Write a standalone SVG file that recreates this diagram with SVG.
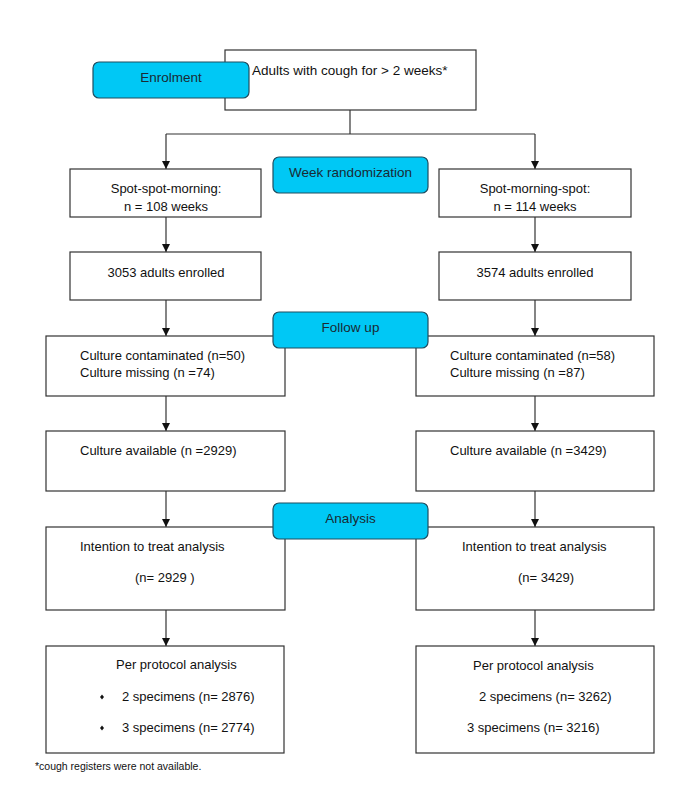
<svg xmlns="http://www.w3.org/2000/svg" width="687" height="800" viewBox="0 0 687 800">
  <style>
    .box { fill: #ffffff; stroke: #333333; stroke-width: 1.2; }
    .tag { fill: #00C8F5; stroke: #1F4E60; stroke-width: 1.2; }
    .t { font-family: "Liberation Sans", Arial, sans-serif; font-size: 13px; fill: #111111; }
    .c { text-anchor: middle; }
    .tg { font-family: "Liberation Sans", Arial, sans-serif; font-size: 13.5px; fill: #1a2a33; text-anchor: middle; }
    .fn { font-family: "Liberation Sans", Arial, sans-serif; font-size: 10.5px; fill: #111111; }
    .con { fill: none; stroke: #333333; stroke-width: 1.2; }
  </style>
  <defs>
    <marker id="ah" viewBox="0 0 8 8" refX="8" refY="4" markerWidth="8" markerHeight="8" markerUnits="userSpaceOnUse" orient="auto">
      <path d="M0,0 L8,4 L0,8 Z" fill="#111111"/>
    </marker>
  </defs>
  <rect width="687" height="800" fill="#ffffff"/>

  <g id="connectors">
    <path class="con" d="M350,110 V134"/>
    <path class="con" d="M166,134 H535"/>
    <path class="con" d="M166,134 V169" marker-end="url(#ah)"/>
    <path class="con" d="M535,134 V169" marker-end="url(#ah)"/>
    <path class="con" d="M166,217 V252" marker-end="url(#ah)"/>
    <path class="con" d="M535,217 V252" marker-end="url(#ah)"/>
    <path class="con" d="M166,300 V336" marker-end="url(#ah)"/>
    <path class="con" d="M535,300 V336" marker-end="url(#ah)"/>
    <path class="con" d="M166,396 V431" marker-end="url(#ah)"/>
    <path class="con" d="M535,396 V431" marker-end="url(#ah)"/>
    <path class="con" d="M166,491 V527" marker-end="url(#ah)"/>
    <path class="con" d="M535,491 V527" marker-end="url(#ah)"/>
    <path class="con" d="M166,610 V646" marker-end="url(#ah)"/>
    <path class="con" d="M535,610 V646" marker-end="url(#ah)"/>
  </g>

  <g id="adults">
    <rect class="box" x="225" y="50" width="251" height="60"/>
    <text class="t" x="252" y="75" style="font-size:13.5px">Adults with cough for &gt; 2 weeks*</text>
  </g>
  <g id="enrolment">
    <rect class="tag" x="93" y="62" width="156" height="36" rx="6"/>
    <text class="tg" x="171" y="82">Enrolment</text>
  </g>

  <g id="ssm">
    <rect class="box" x="70" y="169" width="191" height="48"/>
    <text class="t c" x="166" y="193">Spot-spot-morning:</text>
    <text class="t c" x="166" y="211">n = 108 weeks</text>
  </g>
  <g id="week-randomization">
    <rect class="tag" x="273" y="157" width="155" height="36" rx="6"/>
    <text class="tg" x="350.5" y="177">Week randomization</text>
  </g>
  <g id="sms">
    <rect class="box" x="439" y="169" width="192" height="48"/>
    <text class="t c" x="535" y="193">Spot-morning-spot:</text>
    <text class="t c" x="535" y="211">n = 114 weeks</text>
  </g>

  <g id="enrolled-left">
    <rect class="box" x="70" y="252" width="191" height="48"/>
    <text class="t c" x="166" y="277">3053 adults enrolled</text>
  </g>
  <g id="enrolled-right">
    <rect class="box" x="439" y="252" width="192" height="48"/>
    <text class="t c" x="535" y="277">3574 adults enrolled</text>
  </g>

  <g id="contaminated-left">
    <rect class="box" x="46" y="336" width="239" height="60"/>
    <text class="t" x="80" y="360">Culture contaminated (n=50)</text>
    <text class="t" x="80" y="377">Culture missing (n =74)</text>
  </g>
  <g id="contaminated-right">
    <rect class="box" x="416" y="336" width="238" height="60"/>
    <text class="t" x="450" y="360">Culture contaminated (n=58)</text>
    <text class="t" x="450" y="377">Culture missing (n =87)</text>
  </g>
  <g id="follow-up">
    <rect class="tag" x="273" y="312" width="155" height="36" rx="6"/>
    <text class="tg" x="350.5" y="332">Follow up</text>
  </g>

  <g id="available-left">
    <rect class="box" x="46" y="431" width="239" height="60"/>
    <text class="t" x="80" y="455">Culture available (n =2929)</text>
  </g>
  <g id="available-right">
    <rect class="box" x="416" y="431" width="238" height="60"/>
    <text class="t" x="450" y="455">Culture available (n =3429)</text>
  </g>

  <g id="itt-left">
    <rect class="box" x="46" y="527" width="239" height="83"/>
    <text class="t" x="80" y="551">Intention to treat analysis</text>
    <text class="t" x="135" y="582">(n= 2929 )</text>
  </g>
  <g id="itt-right">
    <rect class="box" x="416" y="527" width="238" height="83"/>
    <text class="t" x="462" y="551">Intention to treat analysis</text>
    <text class="t" x="518" y="582">(n= 3429)</text>
  </g>
  <g id="analysis">
    <rect class="tag" x="273" y="503" width="155" height="36" rx="6"/>
    <text class="tg" x="350.5" y="523">Analysis</text>
  </g>

  <g id="pp-left">
    <rect class="box" x="46" y="646" width="238" height="107"/>
    <text class="t" x="116" y="669">Per protocol analysis</text>
    <path d="M102,694.5 L104,697 L102,699.5 L100,697 Z" fill="#111111"/>
    <text class="t" x="122" y="701">2 specimens (n= 2876)</text>
    <path d="M102,725.5 L104,728 L102,730.5 L100,728 Z" fill="#111111"/>
    <text class="t" x="122" y="732">3 specimens (n= 2774)</text>
  </g>
  <g id="pp-right">
    <rect class="box" x="416" y="646" width="238" height="107"/>
    <text class="t" x="473" y="670">Per protocol analysis</text>
    <text class="t" x="479" y="701">2 specimens (n= 3262)</text>
    <text class="t" x="467" y="732">3 specimens (n= 3216)</text>
  </g>

  <text class="fn" x="35" y="770">*cough registers were not available.</text>
</svg>
